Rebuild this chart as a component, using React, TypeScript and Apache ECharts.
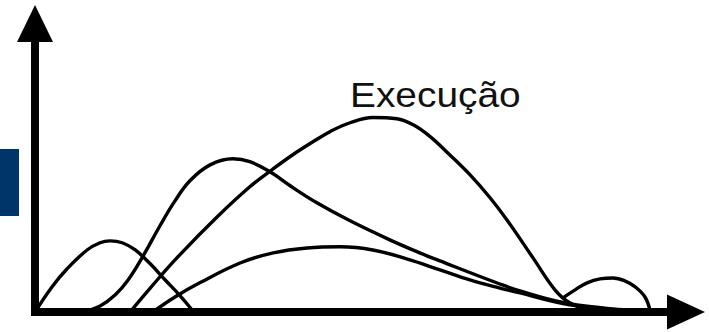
import React, { useEffect, useRef } from "react";
import * as echarts from "echarts";

// Curves: x = time (0-100), y = effort (0-100)
const curveA: [number, number][] = [
  [0, 0], [2.6, 8.7], [4.9, 14.9], [8.0, 21.5], [10.0, 24.0], [11.5, 24.65],
  [13.4, 24.0], [15.4, 21.5], [17.7, 16.7], [20.0, 11.1], [22.3, 5.6], [24.3, 0.3],
  [24.5, 0],
];
const curveB: [number, number][] = [
  [7.4, 0], [10.0, 2.1], [12.3, 5.9], [14.3, 11.1], [16.6, 19.4], [19.2, 29.9],
  [21.5, 38.5], [23.8, 45.5], [26.9, 51.0], [30.4, 53.1], [33.0, 52.1], [36.1, 48.6],
  [39.2, 43.75], [43.3, 37.85], [48.4, 31.6], [54.5, 25.0], [59.1, 20.5], [62.2, 17.7],
  [71.4, 9.7], [74.5, 7.3], [81.1, 3.3], [87.2, 1.4], [92.9, 0.3], [93.7, 0],
];
const curveC: [number, number][] = [
  [14.6, 0], [17.7, 8.3], [21.8, 18.75], [28.0, 33.0], [33.0, 43.4], [36.4, 49.3],
  [39.6, 54.5], [42.7, 59.0], [45.3, 62.5], [48.4, 65.6], [51.9, 67.4], [55.6, 67.0],
  [58.1, 64.9], [60.7, 60.8], [63.7, 54.5], [66.8, 47.6], [69.9, 39.6], [72.5, 31.9],
  [76.5, 18.75], [79.9, 7.6], [82.2, 3.1], [85.25, 0.7], [87.6, 0],
];
const curveD: [number, number][] = [
  [18.1, 0], [21.5, 5.2], [25.3, 10.1], [31.5, 17.0], [36.6, 20.5], [41.8, 22.2],
  [46.9, 22.6], [51.9, 21.5], [57.1, 18.4], [62.2, 14.6], [66.8, 11.1], [71.4, 8.3],
  [74.5, 6.6], [81.1, 2.95], [87.2, 1.2], [92.9, 0.2], [93.5, 0],
];
const curveE: [number, number][] = [
  [81.1, 4.9], [82.9, 7.6], [84.8, 10.1], [86.8, 11.5], [88.8, 11.8], [90.6, 10.8],
  [92.2, 8.7], [93.7, 5.2], [94.5, 0.3],
];
const curves = [curveA, curveB, curveC, curveD, curveE];
const label = "Execução";

export default function App() {
  const ref = useRef<HTMLDivElement>(null);
  useEffect(() => {
    if (!ref.current) return;
    const chart = echarts.init(ref.current, undefined, { renderer: "svg" });
    const axisCommon = {
      type: "value" as const,
      min: 0,
      max: 100,
      axisTick: { show: false },
      axisLabel: { show: false },
      splitLine: { show: false },
      axisLine: {
        show: true,
        symbol: ["none", "triangle"],
        lineStyle: { color: "#000", width: 8, cap: "square" as const },
      },
    };
    chart.setOption({
      animation: false,
      backgroundColor: "#fff",
      grid: { left: 35, right: 23, top: 23.5, bottom: 20 },
      xAxis: { ...axisCommon, axisLine: { ...axisCommon.axisLine, symbolSize: [35, 38] } },
      yAxis: { ...axisCommon, axisLine: { ...axisCommon.axisLine, symbolSize: [36, 37] } },
      series: curves.map((c) => ({
        type: "line",
        data: c,
        smooth: 0.4,
        showSymbol: false,
        clip: false,
        lineStyle: { color: "#000", width: 3.4 },
      })),
      graphic: [
        {
          type: "rect",
          shape: { x: 0, y: 149, width: 19, height: 67 },
          style: { fill: "#003569" },
        },
        {
          type: "text",
          x: 350,
          y: 94.5,
          scaleX: 1.08,
          style: {
            text: label,
            font: '36px "Liberation Sans", Arial, sans-serif',
            fill: "#111",
            align: "left",
            verticalAlign: "middle",
          },
        },
      ],
    });
    return () => chart.dispose();
  }, []);
  return (
    <div
      ref={ref}
      style={{ position: "fixed", left: 0, top: 0, width: 709, height: 332 }}
    />
  );
}
